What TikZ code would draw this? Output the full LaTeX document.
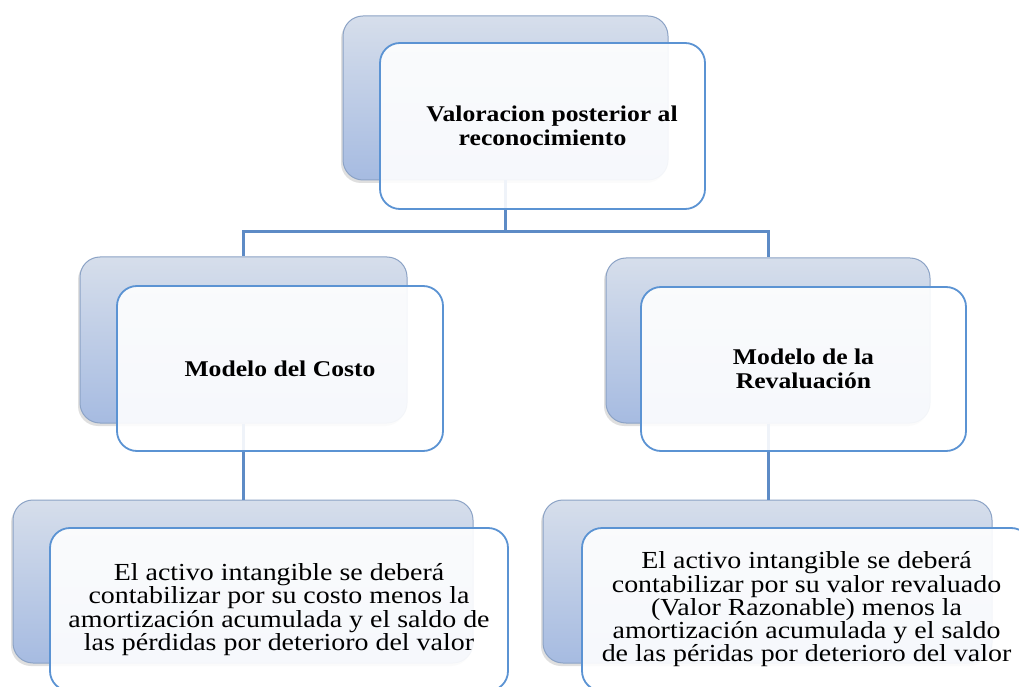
\documentclass[tikz,border=0pt]{standalone}
\usepackage{fontspec}
\setmainfont{Liberation Serif}
\newfontfamily\diagfont[FakeStretch=1.14]{Liberation Serif}
\usetikzlibrary{shadows}
\definecolor{backtop}{HTML}{D6DEEB}
\definecolor{backbot}{HTML}{A6BBE1}
\definecolor{backline}{HTML}{8CA3C6}
\definecolor{frontline}{HTML}{5B93D3}
\definecolor{conn}{HTML}{5D8BC6}
\tikzset{
  backbox/.style={rectangle, rounded corners=20pt, draw=backline, line width=1pt,
    top color=backtop, bottom color=backbot,
    drop shadow={shadow xshift=-2pt, shadow yshift=-3pt, opacity=0.25},
    minimum width=#1, inner sep=0pt},
  frontbox/.style={rectangle, rounded corners=20pt, draw=frontline, line width=1.8pt,
    fill=white, fill opacity=0.9, text opacity=1, align=center,
    minimum width=#1, inner sep=0pt},
  titletext/.style={font=\diagfont\fontsize{22.5}{24}\selectfont\bfseries},
  bodytext/.style={font=\diagfont\fontsize{24.5}{23.5}\selectfont},
  bodytextb/.style={font=\diagfont\fontsize{24.5}{21.8}\selectfont},
  connector/.style={draw=conn, line width=3pt}
}
\begin{document}
\begin{tikzpicture}[x=1pt,y=1pt]
\clip (0,0) rectangle (1019,686);
\fill[white] (0,0) rectangle (1019,686);
\coordinate (j) at (505.5,454);
\node[backbox=325pt, minimum height=164pt] (tback) at (505.5,588) {};
\node[backbox=327pt, minimum height=166pt] (lback) at (243.5,346) {};
\node[backbox=324pt, minimum height=165pt] (rback) at (768,345.5) {};
\node[backbox=460pt, minimum height=163pt] (blback) at (243,104.5) {};
\node[backbox=449pt, minimum height=163pt] (brback) at (767.5,104.5) {};
\draw[connector] (tback.south) -- (j);
\draw[connector] (j) -| (lback.north);
\draw[connector] (j) -| (rback.north);
\draw[connector] (lback.south) -- (lback.south |- blback.north);
\draw[connector] (rback.south) -- (rback.south |- brback.north);
\node[frontbox=325pt, minimum height=166pt, titletext] (tfront) at (542.5,560)
  {\hspace*{19pt}Valoracion posterior al\\reconocimiento};
\node[frontbox=326pt, minimum height=165pt, titletext] (lfront) at (280,317.5)
  {Modelo del Costo};
\node[frontbox=325pt, minimum height=164pt, titletext] (rfront) at (803.5,317)
  {Modelo de la\\Revaluación};
\node[frontbox=458pt, minimum height=163pt, bodytext] (blfront) at (279,76.5)
  {El activo intangible se deberá\\contabilizar por su costo menos la\\amortización acumulada y el saldo de\\las pérdidas por deterioro del valor};
\node[frontbox=449pt, minimum height=163pt, bodytextb] (brfront) at (806.5,76.5)
  {El activo intangible se deberá\\contabilizar por su valor revaluado\\(Valor Razonable) menos la\\amortización acumulada y el saldo\\de las péridas por deterioro del valor};
\end{tikzpicture}
\end{document}
